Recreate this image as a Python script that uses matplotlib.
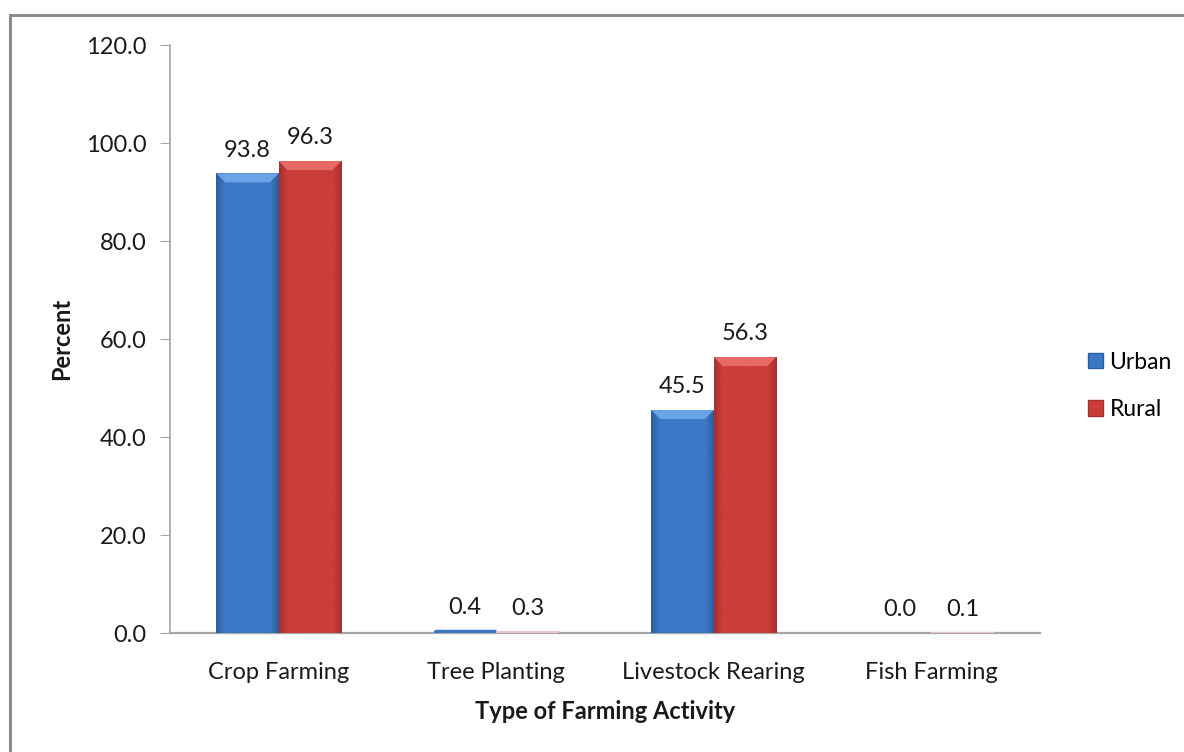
import matplotlib
matplotlib.use("Agg")
import matplotlib.pyplot as plt
import numpy as np
from matplotlib.colors import to_rgb
from matplotlib.patches import Polygon
from matplotlib.lines import Line2D

plt.rcParams['font.family'] = ['Lato', 'DejaVu Sans']

# farming activity by area (percent of households)
activities = ['Crop Farming', 'Tree Planting', 'Livestock Rearing', 'Fish Farming']
urban = [93.8, 0.4, 45.5, 0.0]
rural = [96.3, 0.3, 56.3, 0.1]
series_names = ['Urban', 'Rural']
y_ticks = [0, 20, 40, 60, 80, 100, 120]

base_colors = {'Urban': '#3B78C6', 'Rural': '#CC3D3A'}
edge_colors = {'Urban': '#2C5E9E', 'Rural': '#A32F2D'}
top_colors = {'Urban': '#6AA4E6', 'Rural': '#E66A66'}

FS = 17
TXT = '#1A1A1A'

fig = plt.figure(figsize=(11.84, 7.52), dpi=100)
ax = fig.add_axes([170 / 1184, 1 - 633 / 752, 870 / 1184, 588 / 752])

# outer chart frame (top and left edges)
fig.add_artist(Line2D([10 / 1184, 10 / 1184], [0, 1 - 15 / 752], color='#8C8C8C', lw=2.2,
                      transform=fig.transFigure))
fig.add_artist(Line2D([10 / 1184, 1], [1 - 15 / 752, 1 - 15 / 752], color='#8C8C8C', lw=2.2,
                      transform=fig.transFigure))

x = np.arange(len(activities))
width = 0.287
ppu_x = 870 / 4.0
ppu_y = 588 / 120.0


def shaded_bar(xc, h, name):
    bars = ax.bar(xc, h, width, color=base_colors[name], edgecolor='none', zorder=2)
    b = bars[0]
    if h <= 0:
        return
    c0 = np.array(to_rgb(edge_colors[name]))
    c1 = np.array(to_rgb(base_colors[name]))
    t = np.linspace(-1, 1, 120)
    w = np.clip(np.abs(t) * 1.15 - 0.85, 0, 1) / 0.3
    grad = c1[None, :] * (1 - w[:, None]) + c0[None, :] * w[:, None]
    img = ax.imshow(grad[None, :, :], extent=(xc - width / 2, xc + width / 2, 0, h),
                    aspect='auto', zorder=3, interpolation='bilinear')
    img.set_clip_path(b)
    # bevel on the bar top
    bev_x = 9 / ppu_x
    bev_y = min(9 / ppu_y, h / 2)
    x0, x1 = xc - width / 2, xc + width / 2
    ax.add_patch(Polygon([[x0, h], [x1, h], [x1 - bev_x, h - bev_y], [x0 + bev_x, h - bev_y]],
                         closed=True, color=top_colors[name], lw=0, zorder=4))


for i in range(len(activities)):
    shaded_bar(x[i] - width / 2, urban[i], 'Urban')
    shaded_bar(x[i] + width / 2, rural[i], 'Rural')
    ax.annotate(f'{urban[i]:.1f}', (x[i] - width / 2, urban[i]), xytext=(0, 12),
                textcoords='offset points', ha='center', va='baseline', fontsize=FS, color=TXT)
    ax.annotate(f'{rural[i]:.1f}', (x[i] + width / 2, rural[i]), xytext=(0, 12),
                textcoords='offset points', ha='center', va='baseline', fontsize=FS, color=TXT)

# thin marks for near-zero values
for i in range(len(activities)):
    if 0 < urban[i] < 1:
        ax.plot([x[i] - width, x[i]], [urban[i], urban[i]], color=base_colors['Urban'], lw=2.5, zorder=5,
                solid_capstyle='butt')
    if 0 < rural[i] < 1:
        ax.plot([x[i], x[i] + width], [rural[i], rural[i]], color='#E8C8C8', lw=1.5, zorder=5,
                solid_capstyle='butt')

ax.set_xlim(-0.5, len(activities) - 0.5)
ax.set_ylim(0, 120)
ax.set_yticks(y_ticks)
ax.set_yticklabels([f'{v:.1f}' for v in y_ticks])
ax.set_xticks(x)
ax.set_xticklabels(activities)

for side in ['top', 'right']:
    ax.spines[side].set_visible(False)
ax.spines['left'].set_color('#A6A6A6')
ax.spines['bottom'].set_color('#A6A6A6')
ax.spines['left'].set_linewidth(1.2)
ax.spines['bottom'].set_linewidth(1.6)
ax.tick_params(axis='y', length=7, color='#A6A6A6', labelsize=FS, pad=10, labelcolor=TXT)
ax.tick_params(axis='x', length=0, labelsize=FS, pad=21, labelcolor=TXT)

ax.set_xlabel('Type of Farming Activity', fontsize=FS, fontweight='bold', labelpad=12, color=TXT)
ax.set_ylabel('Percent', fontsize=FS, fontweight='bold', labelpad=9, color=TXT)

# legend
handles = [plt.Rectangle((0, 0), 1, 1, facecolor=base_colors[n], edgecolor=edge_colors[n]) for n in series_names]
fig.legend(handles, series_names, loc='center left', bbox_to_anchor=(1067 / 1184, 1 - 386 / 752),
           frameon=False, fontsize=FS - 0.5, handlelength=0.65, handleheight=0.65, handletextpad=0.3,
           labelspacing=1.15)

fig.savefig('out.png', dpi=100)
